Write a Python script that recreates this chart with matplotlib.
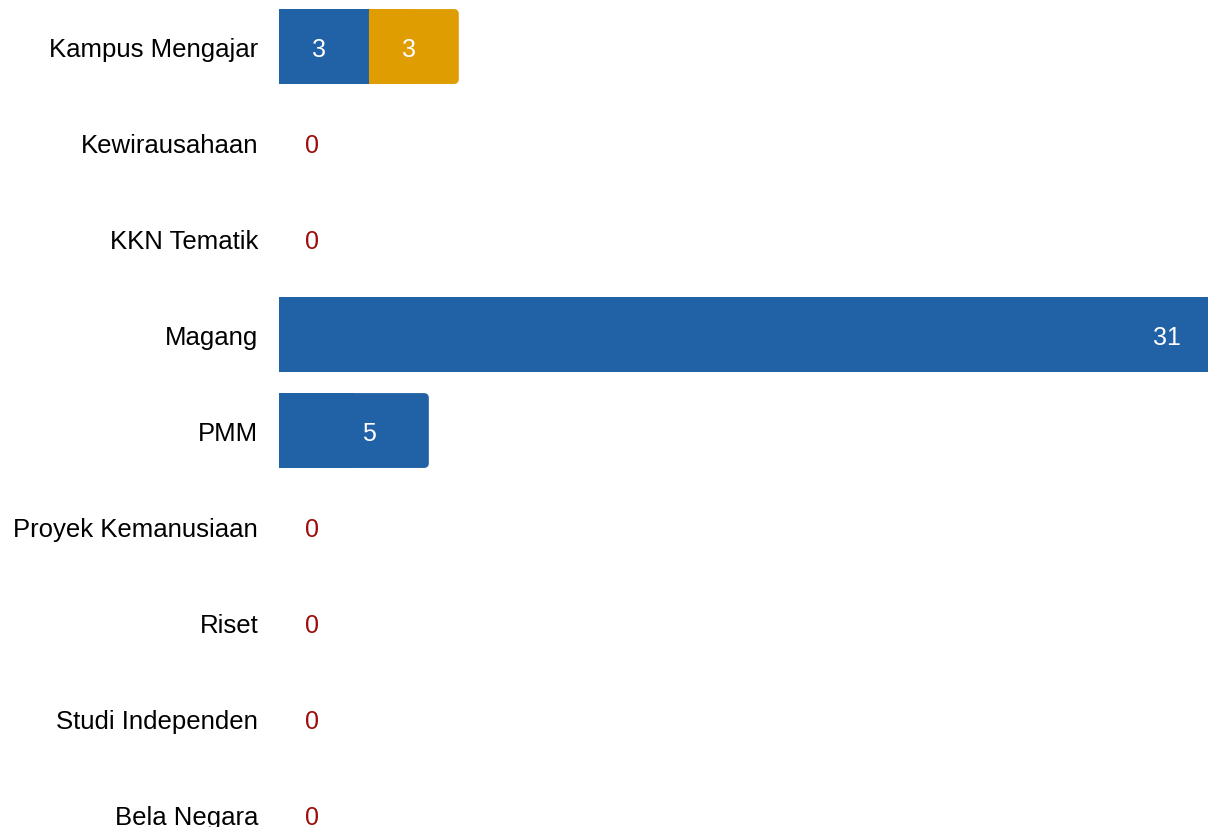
import matplotlib
matplotlib.use("Agg")
import matplotlib.pyplot as plt
from matplotlib.patches import FancyBboxPatch

# Données (de haut en bas)
categories = [
    "Kampus Mengajar", "Kewirausahaan", "KKN Tematik", "Magang", "PMM",
    "Proyek Kemanusiaan", "Riset", "Studi Independen", "Bela Negara",
]
series_blue = [3, 0, 0, 31, 5, 0, 0, 0, 0]
series_orange = [3, 0, 0, 0, 0, 0, 0, 0, 0]

BLUE = "#2161a6"
ORANGE = "#df9d02"
RED = "#9e0b0b"

plt.rcParams["font.family"] = ["Liberation Sans", "DejaVu Sans"]

fig = plt.figure(figsize=(12.08, 8.28), dpi=100)
ax = fig.add_axes([279 / 1208, 0, 1 - 279 / 1208, 1])

XMAX = 31
BAR_H = 0.78
# conversion px -> unités de données
px_x = (1208 - 279) / XMAX
px_y = 96.0
r = 5 / px_x  # rayon d'arrondi en unités x
dy = 2 / px_y  # petit décalage vertical des étiquettes de valeur

series = [(series_blue, BLUE), (series_orange, ORANGE)]

for i, cat in enumerate(categories):
    left = 0
    segs = [(vals[i], col) for vals, col in series if vals[i] > 0]
    if not segs:
        ax.text(1.1, i + dy, "0", color=RED, fontsize=18, ha="center", va="center")
        continue
    for k, (v, col) in enumerate(segs):
        last = k == len(segs) - 1
        if last and left + v < XMAX:
            # dernier segment : coins droits arrondis
            box = FancyBboxPatch(
                (left, i - BAR_H / 2), v, BAR_H,
                boxstyle=f"round,pad=0,rounding_size={r}",
                mutation_aspect=px_x / px_y,
                facecolor=col, edgecolor="none",
            )
            ax.add_patch(box)
            ax.barh(i, v / 2, left=left, height=BAR_H, color=col, linewidth=0)
        else:
            ax.barh(i, v, left=left, height=BAR_H, color=col, linewidth=0)
        # étiquette de valeur
        if v > 15:
            x_lab = left + v - 1.37
        elif len(segs) == 1:
            x_lab = left + v / 2 + 0.5
        else:
            x_lab = left + v / 2 - 0.15
        ax.text(x_lab, i + dy, str(v), color="white", fontsize=18,
                ha="center", va="center")
        left += v

ax.set_xlim(0, XMAX)
ax.set_ylim(8.130, -0.495)
ax.set_yticks(range(len(categories)))
ax.set_yticklabels(categories, fontsize=18.5)
ax.tick_params(axis="y", length=0, pad=15)
ax.set_xticks([])
for s in ax.spines.values():
    s.set_visible(False)

fig.savefig("out.png", dpi=100)
